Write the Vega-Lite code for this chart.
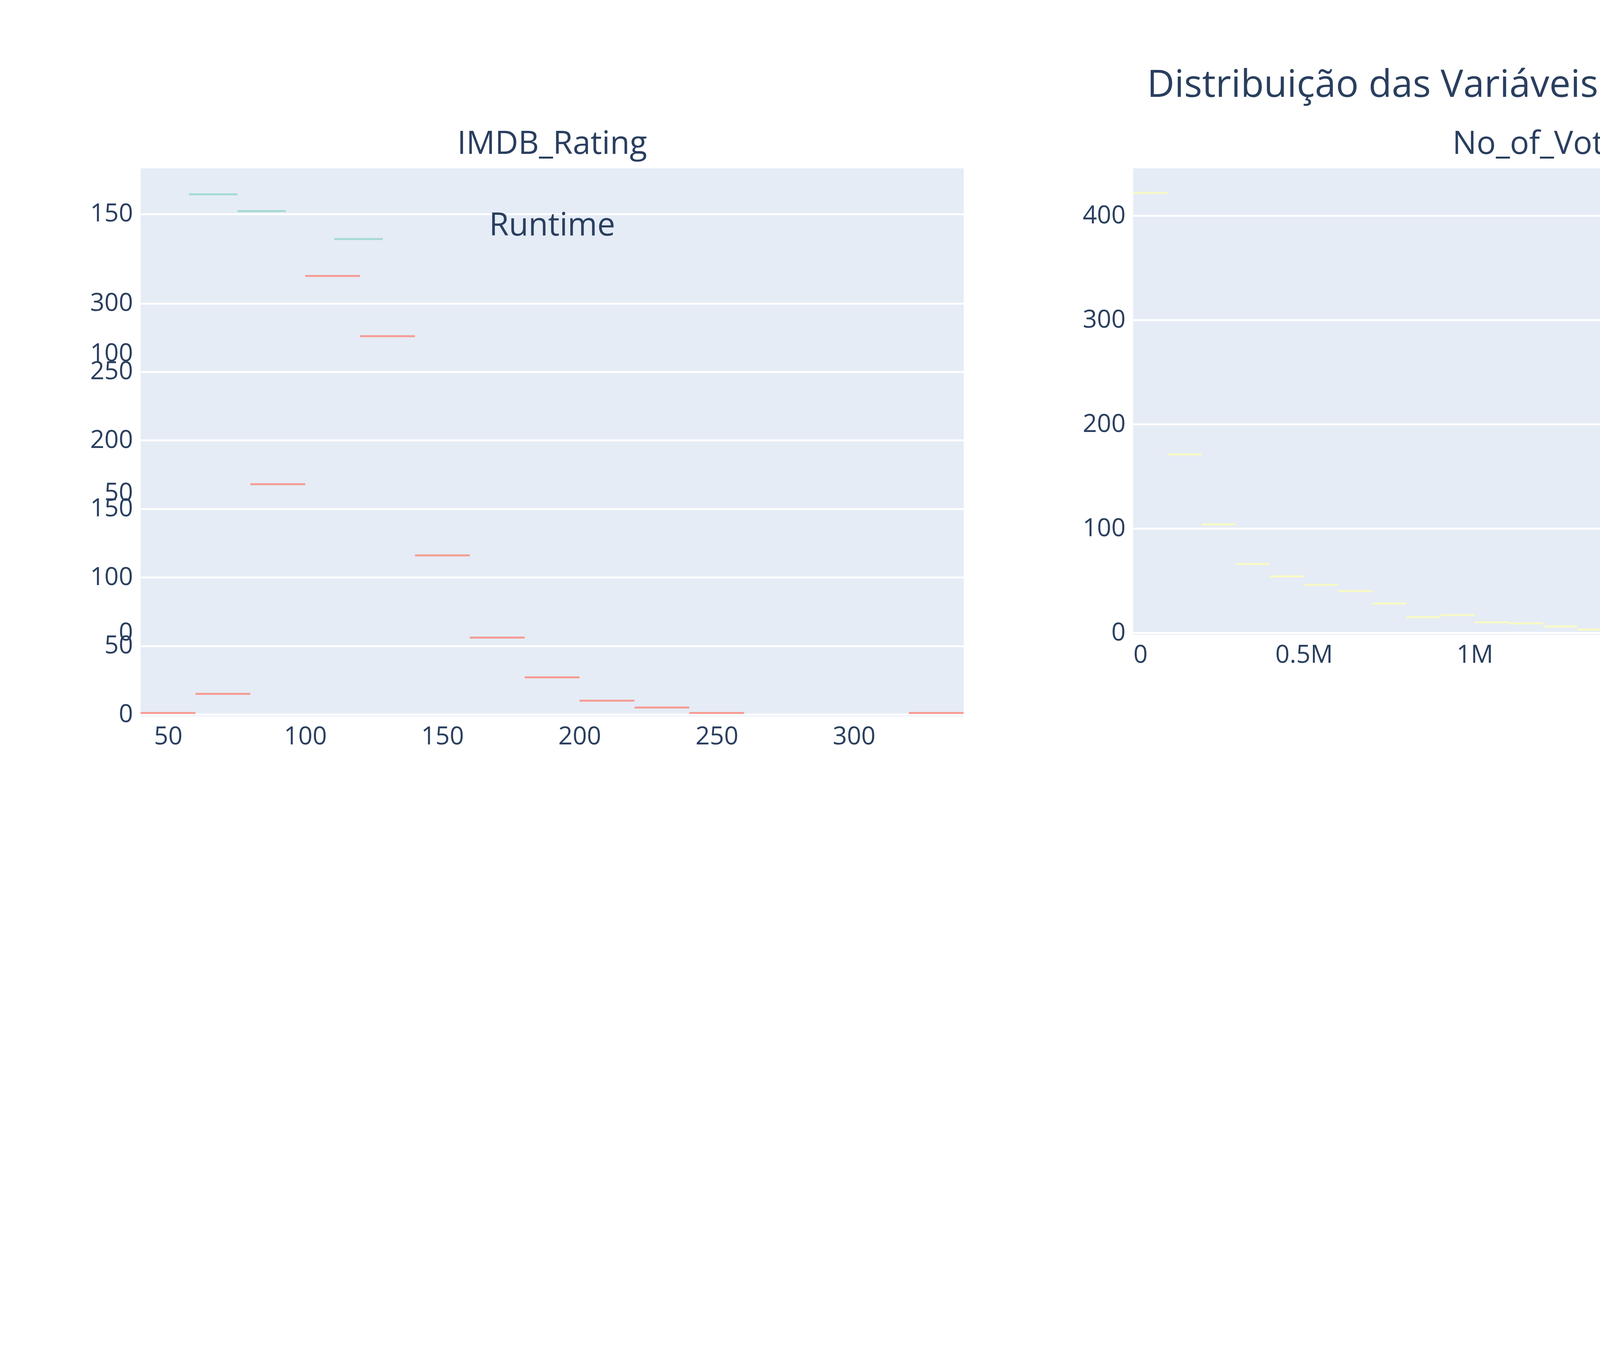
{
"$schema":"https://vega.github.io/schema/vega-lite/v6.json",
"padding":{"left":230,"top":170,"right":0,"bottom":0},
"background":"white",
"title":{"text":"Distribuição das Variáveis de Performance","fontSize":97,"font":"Open Sans","fontWeight":"normal","color":"#2a3f5f","anchor":"middle","offset":60},
"config":{"view":{"fill":"#E5ECF6","stroke":null},
"font":"Open Sans",
"axis":{"domain":false,"ticks":false,"labelFont":"Open Sans","labelFontSize":64,"labelColor":"#2a3f5f","title":null,"gridColor":"white","gridWidth":5,"labelPadding":20},
"axisX":{"grid":false},
"title":{"fontSize":82,"font":"Open Sans","fontWeight":"normal","color":"#2a3f5f","offset":20}},
"datasets":{
"imdb":[{"a":7.55,"b":7.65,"c":123},{"a":7.65,"b":7.75,"c":157},{"a":7.75,"b":7.85,"c":151},{"a":7.85,"b":7.95,"c":106},{"a":7.95,"b":8.05,"c":141},{"a":8.05,"b":8.15,"c":127},{"a":8.15,"b":8.25,"c":67},{"a":8.25,"b":8.35,"c":44},{"a":8.35,"b":8.45,"c":31},{"a":8.45,"b":8.55,"c":20},{"a":8.55,"b":8.65,"c":15},{"a":8.65,"b":8.75,"c":5},{"a":8.75,"b":8.85,"c":5},{"a":8.85,"b":8.95,"c":3},{"a":8.95,"b":9.05,"c":3},{"a":9.15,"b":9.25,"c":1}],
"votes":[{"a":0,"b":100000,"c":422},{"a":100000,"b":200000,"c":171},{"a":200000,"b":300000,"c":104},{"a":300000,"b":400000,"c":66},{"a":400000,"b":500000,"c":54},{"a":500000,"b":600000,"c":46},{"a":600000,"b":700000,"c":40},{"a":700000,"b":800000,"c":28},{"a":800000,"b":900000,"c":15},{"a":900000,"b":1000000,"c":17},{"a":1000000,"b":1100000,"c":10},{"a":1100000,"b":1200000,"c":9},{"a":1200000,"b":1300000,"c":6},{"a":1300000,"b":1400000,"c":3},{"a":1400000,"b":1500000,"c":2},{"a":1500000,"b":1600000,"c":2},{"a":1600000,"b":1700000,"c":4},{"a":1700000,"b":1800000,"c":1},{"a":1800000,"b":1900000,"c":1},{"a":2000000,"b":2100000,"c":1},{"a":2100000,"b":2200000,"c":1},{"a":2300000,"b":2400000,"c":1}],
"pop":[{"a":-1,"b":1,"c":13},{"a":1,"b":3,"c":275},{"a":3,"b":5,"c":239},{"a":5,"b":7,"c":127},{"a":7,"b":9,"c":97},{"a":9,"b":11,"c":82},{"a":11,"b":13,"c":47},{"a":13,"b":15,"c":28},{"a":15,"b":17,"c":18},{"a":17,"b":19,"c":16},{"a":19,"b":21,"c":20},{"a":21,"b":23,"c":11},{"a":23,"b":25,"c":8},{"a":25,"b":27,"c":4},{"a":29,"b":31,"c":3},{"a":31,"b":33,"c":1},{"a":33,"b":35,"c":1},{"a":35,"b":37,"c":1},{"a":37,"b":39,"c":1},{"a":41,"b":43,"c":1},{"a":45,"b":47,"c":1},{"a":47,"b":49,"c":1}],
"run":[{"a":40,"b":60,"c":1},{"a":60,"b":80,"c":15},{"a":80,"b":100,"c":168},{"a":100,"b":120,"c":320},{"a":120,"b":140,"c":276},{"a":140,"b":160,"c":116},{"a":160,"b":180,"c":56},{"a":180,"b":200,"c":27},{"a":200,"b":220,"c":10},{"a":220,"b":240,"c":5},{"a":240,"b":260,"c":1},{"a":320,"b":340,"c":1}]},
"vconcat":[
{"hconcat":[
{"title":"IMDB_Rating","width":2107,"height":1194,"data":{"name":"imdb"},"mark":{"type":"bar","color":"#8dd3c7","opacity":0.75},
"encoding":{"x":{"field":"a","type":"quantitative","scale":{"domain":[7.55,9.25],"nice":false,"zero":false},"axis":{"values":[8,8.5,9]}},"x2":{"field":"b"},"y":{"field":"c","type":"quantitative","scale":{"domain":[0,165.6],"nice":false},"axis":{"values":[0,50,100,150]}}}},
{"title":"No_of_Votes","width":2107,"height":1194,"data":{"name":"votes"},"mark":{"type":"bar","color":"#ffffb3","opacity":0.75},
"encoding":{"x":{"field":"a","type":"quantitative","scale":{"domain":[0,2410000],"nice":false},"axis":{"values":[0,500000,1000000,1500000,2000000],"labelExpr":"datum.value==0?'0':format(datum.value/1000000,'~g')+'M'"}},"x2":{"field":"b"},"y":{"field":"c","type":"quantitative","scale":{"domain":[0,443.6],"nice":false},"axis":{"values":[0,100,200,300,400]}}}},
{"title":"Popularity","width":2107,"height":1194,"data":{"name":"pop"},"mark":{"type":"bar","color":"#bebada","opacity":0.75},
"encoding":{"x":{"field":"a","type":"quantitative","scale":{"domain":[-1,49],"nice":false,"zero":false},"axis":{"values":[0,10,20,30,40]}},"x2":{"field":"b"},"y":{"field":"c","type":"quantitative","scale":{"domain":[0,289.6],"nice":false},"axis":{"values":[0,50,100,150,200,250]}}}}
],"spacing":434,"bounds":"flush"},
{"hconcat":[
{"title":"Runtime","width":2107,"height":1194,"data":{"name":"run"},"mark":{"type":"bar","color":"#fb8072","opacity":0.75},
"encoding":{"x":{"field":"a","type":"quantitative","scale":{"domain":[40,340],"nice":false,"zero":false},"axis":{"values":[50,100,150,200,250,300]}},"x2":{"field":"b"},"y":{"field":"c","type":"quantitative","scale":{"domain":[0,337.5],"nice":false},"axis":{"values":[0,50,100,150,200,250,300]}}}}
],"bounds":"flush"}
],"spacing":209,"bounds":"flush"
}
